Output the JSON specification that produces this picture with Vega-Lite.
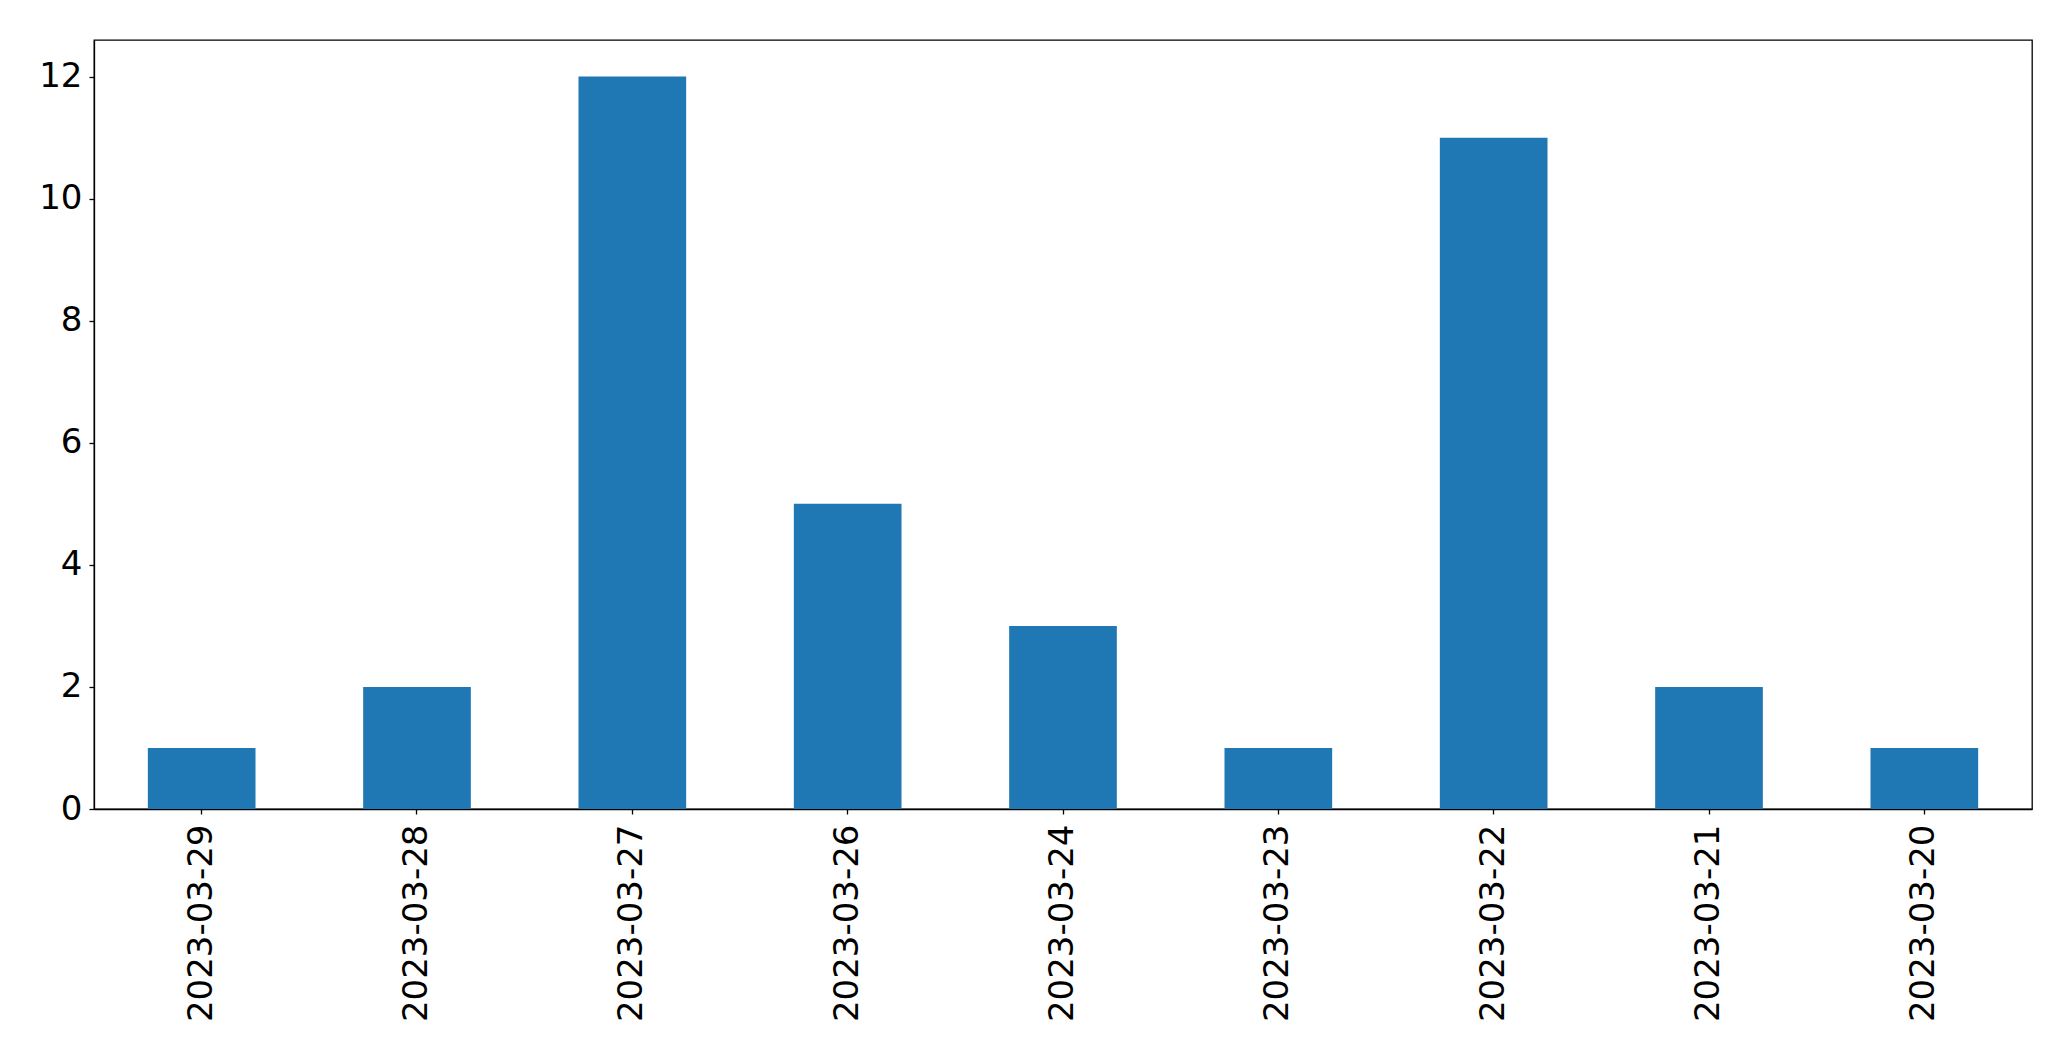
{
  "$schema": "https://vega.github.io/schema/vega-lite/v6.json",
  "width": 1938,
  "height": 769,
  "autosize": {"type": "none"},
  "padding": {"left": 94, "top": 40, "right": 39, "bottom": 252},
  "background": "white",
  "config": {
    "view": {"stroke": "black", "strokeWidth": 1.3},
    "font": "DejaVu Sans",
    "axis": {
      "labelFont": "DejaVu Sans",
      "labelFontSize": 34,
      "labelColor": "black",
      "labelLimit": 0,
      "domainColor": "black",
      "tickColor": "black",
      "tickSize": 5,
      "tickWidth": 1.3,
      "domainWidth": 1.3,
      "grid": false,
      "title": null
    }
  },
  "data": {
    "values": [
      {"date": "2023-03-29", "count": 1},
      {"date": "2023-03-28", "count": 2},
      {"date": "2023-03-27", "count": 12},
      {"date": "2023-03-26", "count": 5},
      {"date": "2023-03-24", "count": 3},
      {"date": "2023-03-23", "count": 1},
      {"date": "2023-03-22", "count": 11},
      {"date": "2023-03-21", "count": 2},
      {"date": "2023-03-20", "count": 1}
    ]
  },
  "mark": {"type": "bar", "color": "#1f77b4"},
  "encoding": {
    "x": {
      "field": "date",
      "type": "nominal",
      "sort": null,
      "scale": {"paddingInner": 0.5, "paddingOuter": 0.25},
      "axis": {"labelAngle": -90, "labelPadding": 10, "labelLimit": 0, "title": null}
    },
    "y": {
      "field": "count",
      "type": "quantitative",
      "scale": {"domain": [0, 12.6], "nice": false, "zero": true},
      "axis": {"values": [0, 2, 4, 6, 8, 10, 12], "labelPadding": 7, "title": null}
    }
  }
}
